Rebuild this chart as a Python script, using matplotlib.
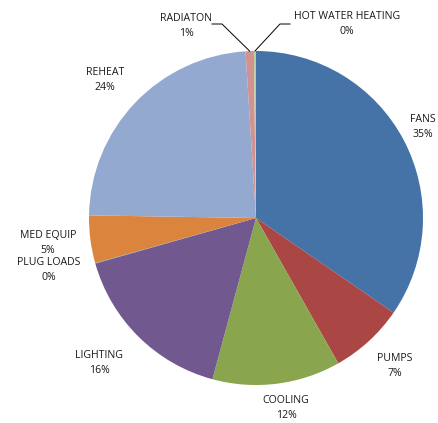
import numpy as np
import matplotlib
matplotlib.use("Agg")
from matplotlib import pyplot as plt

categories = ["FANS", "PUMPS", "COOLING", "LIGHTING", "PLUG LOADS",
              "MED EQUIP", "REHEAT", "RADIATON", "HOT WATER HEATING"]
shares = [34.6, 7.2, 12.4, 16.4, 0.05, 4.6, 23.75, 0.8, 0.2]
pct_labels = ["35%", "7%", "12%", "16%", "0%", "5%", "24%", "1%", "0%"]
colors = ["#4572A7", "#AA4643", "#89A54E", "#71588F", "#4198AF",
          "#DB843D", "#93A9CF", "#D19392", "#B9CD96"]

W, H = 438, 423
fig = plt.figure(figsize=(W / 100, H / 100), dpi=100)
ax = fig.add_axes([0, 0, 1, 1])

cx, cy, r = 256, H - 218, 167
wedges, _ = ax.pie(shares, colors=colors, startangle=90, counterclock=False,
                   center=(cx, cy), radius=r, frame=True,
                   wedgeprops=dict(linewidth=0))
ax.set_xlim(0, W)
ax.set_ylim(0, H)
ax.set_aspect("equal")
ax.axis("off")

# label text centres (pixel coords, y from top)
label_pos = {
    "FANS": (423, 127),
    "PUMPS": (395, 366),
    "COOLING": (286, 408),
    "LIGHTING": (99, 363),
    "PLUG LOADS": (49, 270),
    "MED EQUIP": (48, 243),
    "REHEAT": (105, 80),
    "RADIATON": (186, 26),
    "HOT WATER HEATING": (347, 24),
}

fs = 7.6
for name, pct in zip(categories, pct_labels):
    x, y = label_pos[name]
    ax.text(x, H - y, name + "\n" + pct, ha="center", va="center",
            fontsize=fs, family="Open Sans", color="#1a1a1a", linespacing=1.55)

# leader lines for the thin slices at the top
for w, (x0, x1) in zip(wedges[-2:], [(212, 222), (290, 280)]):
    mid = np.deg2rad((w.theta1 + w.theta2) / 2)
    px, py = cx + r * np.cos(mid), cy + r * np.sin(mid)
    ax.plot([x0, x1, px], [H - 24, H - 24, py], color="black", lw=0.7)

fig.savefig("out.png", dpi=100)
